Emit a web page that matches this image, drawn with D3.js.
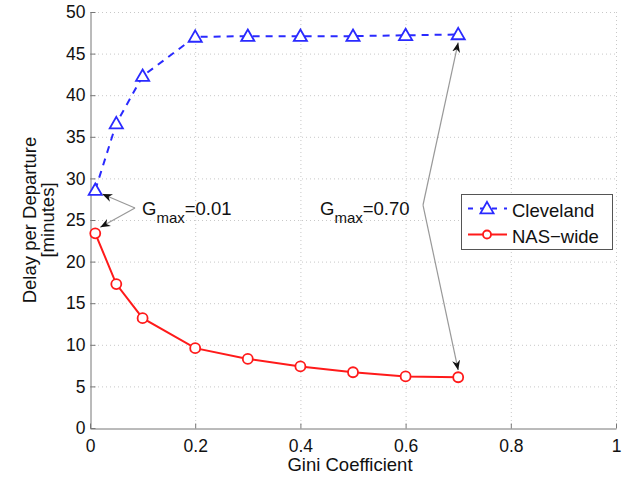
<!DOCTYPE html>
<html>
<head>
<meta charset="UTF-8" />
<script src="https://d3js.org/d3.v7.min.js"></script>
<style>
body { margin: 0px; background: white; }
text { font-family: "Liberation Sans", Arial, sans-serif; }
</style>
</head>
<body>
<svg id="chart" width="627" height="478"></svg>
<script>
// data
let gini = [0.01, 0.05, 0.1, 0.2, 0.3, 0.4, 0.5, 0.6, 0.7];
let cleveland = [28.6, 36.6, 42.3, 47.0, 47.1, 47.1, 47.1, 47.2, 47.3];
let nasWide = [23.4, 17.3, 13.2, 9.6, 8.3, 7.4, 6.7, 6.2, 6.1];
let xTicks = [0, 0.2, 0.4, 0.6, 0.8, 1];
let yTicks = [0, 5, 10, 15, 20, 25, 30, 35, 40, 45, 50];
let seriesNames = ["Cleveland", "NAS\u2212wide"];

let svg = d3.select("#chart");
let mLeft = 90, mRight = 616, mTop = 12, mBottom = 428;

let x = d3.scaleLinear().domain([0, 1]).range([mLeft, mRight]);
let y = d3.scaleLinear().domain([0, 50]).range([mBottom, mTop]);

// grid
let grid = svg.append("g")
    .attr("stroke", "#c8c8c8")
    .attr("stroke-width", 1)
    .attr("stroke-dasharray", "1,3");
grid.selectAll(".gx").data(xTicks.slice(1)).enter().append("line")
    .attr("x1", d => x(d) + 0.5).attr("x2", d => x(d) + 0.5)
    .attr("y1", mTop).attr("y2", mBottom);
grid.selectAll(".gy").data(yTicks.slice(1)).enter().append("line")
    .attr("y1", d => y(d) + 0.5).attr("y2", d => y(d) + 0.5)
    .attr("x1", mLeft).attr("x2", mRight);

// axes (matlab style: inward ticks, no box)
let xAxis = d3.axisBottom(x).tickValues(xTicks).tickSizeInner(-5).tickSizeOuter(0)
    .tickPadding(11).tickFormat(d => d3.format("~g")(d));
let yAxis = d3.axisLeft(y).tickValues(yTicks).tickSizeInner(-5).tickSizeOuter(0)
    .tickPadding(5);

let gx = svg.append("g").attr("transform", `translate(0,${mBottom + 0.5})`).call(xAxis);
let gy = svg.append("g").attr("transform", `translate(${mLeft + 0.5},0)`).call(yAxis);
[gx, gy].forEach(g => {
    g.select(".domain").attr("stroke", "#777");
    g.selectAll(".tick line").attr("stroke", "#777");
    g.selectAll(".tick text").attr("fill", "#111").style("font-size", "17.5px")
        .style("font-family", "'Liberation Sans', Arial, sans-serif");
});

// axis labels
svg.append("text").attr("x", 350).attr("y", 471)
    .attr("text-anchor", "middle").style("font-size", "18.5px").attr("fill", "#111")
    .text("Gini Coefficient");
let yl = svg.append("text").attr("transform", "translate(36,220) rotate(-90)")
    .attr("text-anchor", "middle").style("font-size", "18.5px").attr("fill", "#111");
yl.append("tspan").attr("x", 0).attr("dy", 0).text("Delay per Departure");
yl.append("tspan").attr("x", 0).attr("dy", 18).text("[minutes]");

// lines
let line = d3.line().x((d, i) => x(gini[i])).y(d => y(d));
let blue = "#2a2aff", red = "#ff1a1a";

svg.append("path").datum(cleveland).attr("d", line)
    .attr("fill", "none").attr("stroke", blue).attr("stroke-width", 2)
    .attr("stroke-dasharray", "7,6");
svg.append("path").datum(nasWide).attr("d", line)
    .attr("fill", "none").attr("stroke", red).attr("stroke-width", 2);

let tri = d3.symbol().type(d3.symbolTriangle).size(75);
svg.selectAll(".tri").data(cleveland).enter().append("path")
    .attr("d", tri)
    .attr("transform", (d, i) => `translate(${x(gini[i])},${y(d) + 1})`)
    .attr("fill", "white").attr("stroke", blue).attr("stroke-width", 1.8);
svg.selectAll(".circ").data(nasWide).enter().append("circle")
    .attr("cx", (d, i) => x(gini[i])).attr("cy", d => y(d)).attr("r", 5)
    .attr("fill", "white").attr("stroke", red).attr("stroke-width", 1.8);

// annotations
let defs = svg.append("defs");
defs.append("marker").attr("id", "arr").attr("viewBox", "0 0 10 10")
    .attr("refX", 10).attr("refY", 5).attr("markerWidth", 10).attr("markerHeight", 10)
    .attr("markerUnits", "userSpaceOnUse").attr("orient", "auto")
    .append("path").attr("d", "M0,1 L10,5 L0,9 L3,5 Z").attr("fill", "#111");

function arrow(x1, y1, x2, y2) {
    svg.append("line").attr("x1", x1).attr("y1", y1).attr("x2", x2).attr("y2", y2)
        .attr("stroke", "#999").attr("stroke-width", 1.2).attr("marker-end", "url(#arr)");
}
arrow(135, 208, x(gini[0]) + 7, y(cleveland[0]) + 4);
arrow(135, 208, x(gini[0]) + 5, y(nasWide[0]) - 6);
arrow(423, 205, x(gini[8]), y(cleveland[8]) + 8);
arrow(423, 205, x(gini[8]), y(nasWide[8]) - 7);

function gmax(px, py, val) {
    let t = svg.append("text").attr("x", px).attr("y", py)
        .style("font-size", "18.5px").attr("fill", "#111");
    t.append("tspan").text("G");
    t.append("tspan").attr("dy", 8).style("font-size", "15px").text("max");
    t.append("tspan").attr("dy", -8).text("=" + val);
}
gmax(142, 214.5, "0.01");
gmax(320, 215, "0.70");

// legend
let lg = svg.append("g").attr("transform", "translate(461,194)");
lg.append("rect").attr("x", 0.5).attr("y", 0.5).attr("width", 151).attr("height", 55)
    .attr("fill", "white").attr("stroke", "#555").attr("stroke-width", 1);
lg.append("line").attr("x1", 7).attr("x2", 46).attr("y1", 14.5).attr("y2", 14.5)
    .attr("stroke", blue).attr("stroke-width", 2).attr("stroke-dasharray", "5,7");
lg.append("path").attr("d", tri).attr("transform", "translate(26,15.5)")
    .attr("fill", "white").attr("stroke", blue).attr("stroke-width", 1.8);
lg.append("line").attr("x1", 7).attr("x2", 46).attr("y1", 40.5).attr("y2", 40.5)
    .attr("stroke", red).attr("stroke-width", 2);
lg.append("circle").attr("cx", 26).attr("cy", 40.5).attr("r", 4)
    .attr("fill", "white").attr("stroke", red).attr("stroke-width", 1.8);
lg.selectAll(".lt").data(seriesNames).enter().append("text")
    .attr("x", 51).attr("y", (d, i) => 22.5 + i * 26.5)
    .style("font-size", "18.5px").attr("fill", "#111").text(d => d);
</script>
</body>
</html>
